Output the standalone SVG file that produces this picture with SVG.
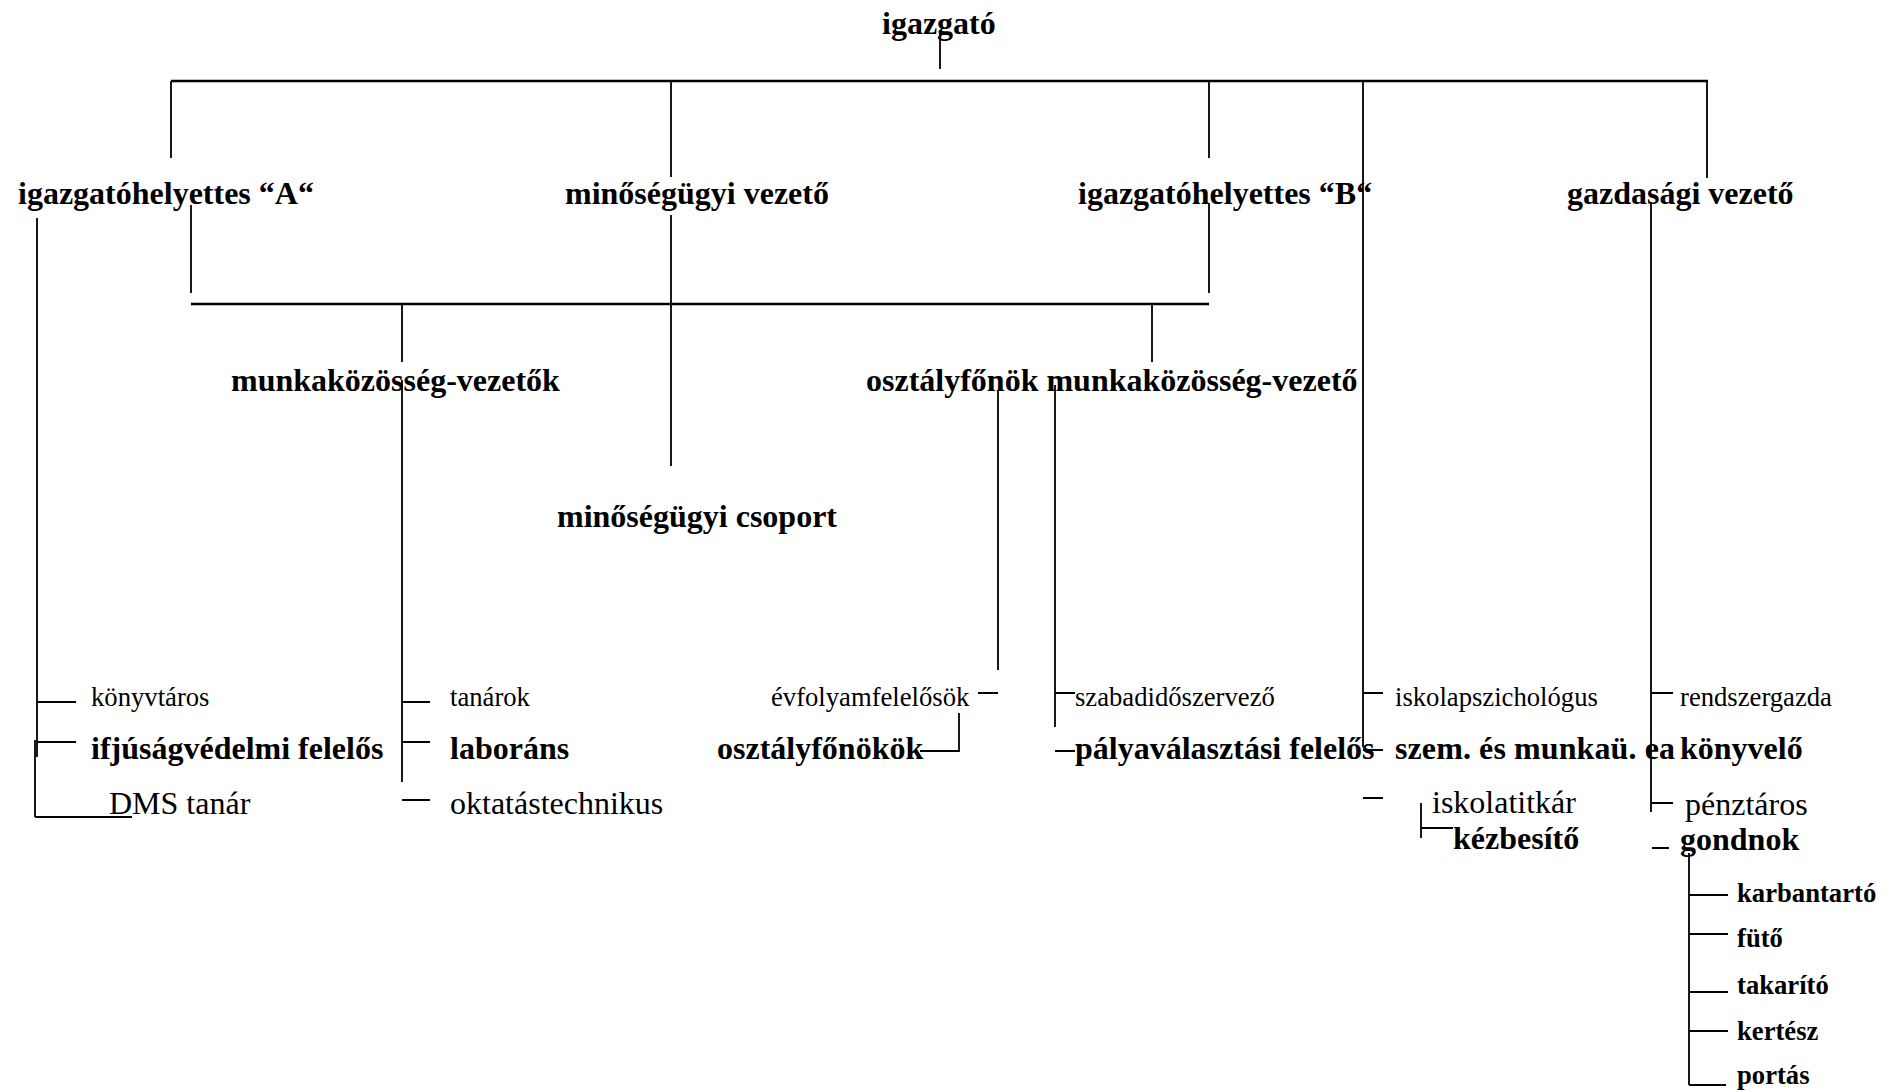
<svg xmlns="http://www.w3.org/2000/svg" width="1892" height="1091" viewBox="0 0 1892 1091">
  <style>
    text { font-family: "Liberation Serif", "Times New Roman", serif; fill: #000; }
    .b32 { font-size: 32px; font-weight: bold; }
    .r32 { font-size: 32px; }
    .b27 { font-size: 26.67px; font-weight: bold; }
    .r27 { font-size: 26.67px; }
    .ln { fill: none; stroke: #000; stroke-width: 1.8; }
    .bar { fill: none; stroke: #000; stroke-width: 2.4; }
  </style>
  <rect width="1892" height="1091" fill="#fff"/>

  <!-- connectors -->
  <g id="connectors">
    <path class="bar" d="M171 81 H1708 M191 304 H1209"/>
    <path class="ln" d="M940 30 V69
      M171 81 V158 M671 81 V177 M671 215 V466 M1209 81 V158 M1363 81 V747 M1707 81 V178
      M37 218 V757 M35 740 V817 M35 817 H132
      M191 205 V293 M1209 203 V293
      M402 304 V362 M402 380 V782 M1152 304 V362
      M998 390 V670 M1055 385 V727 M1651 202 V812 M1689 853 V1085"/>
    <path class="ln" d="M37 702 H76 M37 742 H76
      M402 702 H430 M402 742 H430 M402 800 H430
      M978 693 H998 M920 751 H959 V713
      M1055 693 H1075 M1055 751 H1075
      M1363 693 H1383 M1363 750 H1383 M1363 798 H1383
      M1421 803 V838 M1421 828 H1453
      M1651 693 H1673 M1651 803 H1673 M1652 848 H1669
      M1689 895 H1728 M1689 934 H1728 M1689 992 H1728 M1689 1031 H1728 M1689 1085 H1726"/>
  </g>

  <!-- top level -->
  <g id="igazgato"><text class="b32" x="882" y="34">igazgató</text></g>

  <!-- second level -->
  <g id="igh-a"><text class="b32" x="18" y="204">igazgatóhelyettes “A“</text></g>
  <g id="minosegugyi-vezeto"><text class="b32" x="565" y="204">minőségügyi vezető</text></g>
  <g id="igh-b"><text class="b32" x="1078" y="204">igazgatóhelyettes “B“</text></g>
  <g id="gazdasagi-vezeto"><text class="b32" x="1567" y="204">gazdasági vezető</text></g>

  <!-- third level -->
  <g id="mk-vezetok"><text class="b32" x="231" y="391">munkaközösség-vezetők</text></g>
  <g id="of-mk-vezeto"><text class="b32" x="866" y="391">osztályfőnök munkaközösség-vezető</text></g>
  <g id="minosegugyi-csoport"><text class="b32" x="557" y="527">minőségügyi csoport</text></g>

  <!-- staff under igazgatóhelyettes A -->
  <g id="konyvtaros"><text class="r27" x="91" y="706">könyvtáros</text></g>
  <g id="ifjusagvedelmi"><text class="b32" x="91" y="759">ifjúságvédelmi felelős</text></g>
  <g id="dms-tanar"><text class="r32" x="109" y="814">DMS tanár</text></g>

  <!-- staff under munkaközösség-vezetők -->
  <g id="tanarok"><text class="r27" x="450" y="706">tanárok</text></g>
  <g id="laborans"><text class="b32" x="450" y="759">laboráns</text></g>
  <g id="oktatastechnikus"><text class="r32" x="450" y="814">oktatástechnikus</text></g>

  <!-- staff under osztályfőnök munkaközösség-vezető -->
  <g id="evfolyamfelelosok"><text class="r27" x="771" y="706">évfolyamfelelősök</text></g>
  <g id="osztalyfonokok"><text class="b32" x="717" y="759">osztályfőnökök</text></g>
  <g id="szabadidoszervezo"><text class="r27" x="1075" y="706">szabadidőszervező</text></g>
  <g id="palyavalasztasi"><text class="b32" x="1075" y="759">pályaválasztási felelős</text></g>

  <!-- staff directly under igazgató -->
  <g id="iskolapszichologus"><text class="r27" x="1395" y="706">iskolapszichológus</text></g>
  <g id="szem-munkau"><text class="b32" x="1395" y="759" textLength="280" lengthAdjust="spacing">szem. és munkaü. ea</text></g>
  <g id="iskolatitkar"><text class="r32" x="1432" y="813">iskolatitkár</text></g>
  <g id="kezbesito"><text class="b32" x="1453" y="849">kézbesítő</text></g>

  <!-- staff under gazdasági vezető -->
  <g id="rendszergazda"><text class="r27" x="1680" y="706">rendszergazda</text></g>
  <g id="konyvelo"><text class="b32" x="1680" y="759">könyvelő</text></g>
  <g id="penztaros"><text class="r32" x="1685" y="815">pénztáros</text></g>
  <g id="gondnok"><text class="b32" x="1680" y="850">gondnok</text></g>

  <!-- staff under gondnok -->
  <g id="karbantarto"><text class="b27" x="1737" y="902">karbantartó</text></g>
  <g id="futo"><text class="b27" x="1737" y="947">fütő</text></g>
  <g id="takarito"><text class="b27" x="1737" y="994">takarító</text></g>
  <g id="kertesz"><text class="b27" x="1737" y="1040">kertész</text></g>
  <g id="portas"><text class="b27" x="1737" y="1084">portás</text></g>
</svg>
